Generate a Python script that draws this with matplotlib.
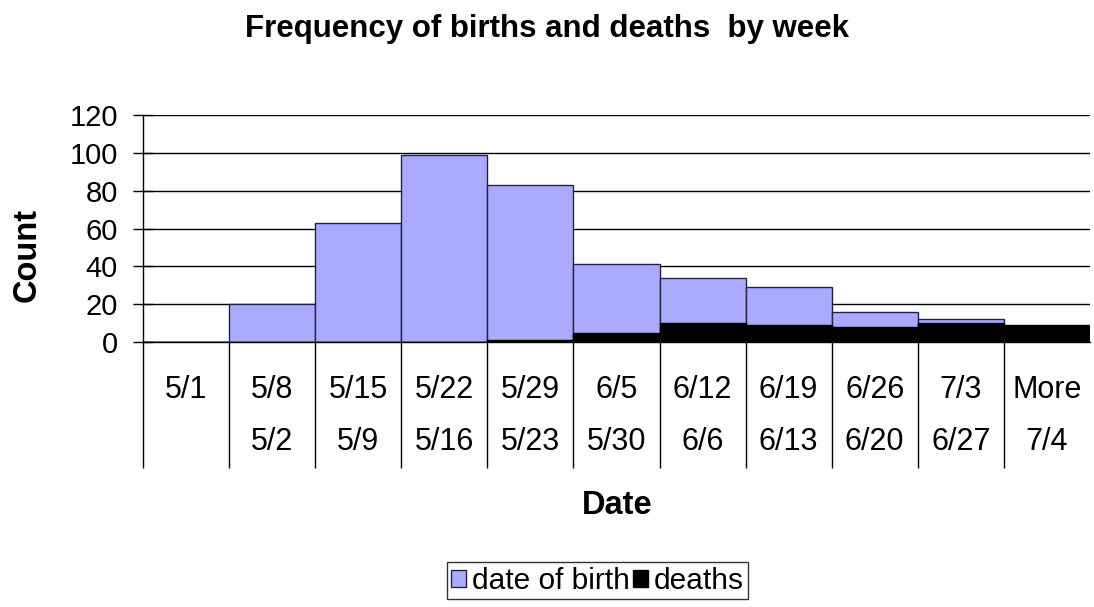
import matplotlib
matplotlib.use("Agg")
import matplotlib.pyplot as plt
from matplotlib.patches import Patch
import numpy as np

plt.rcParams["font.family"] = ["Liberation Sans", "DejaVu Sans"]

# bins: upper edge (top row) and lower edge (bottom row)
upper_labels = ["5/1", "5/8", "5/15", "5/22", "5/29", "6/5", "6/12", "6/19", "6/26", "7/3", "More"]
lower_labels = ["", "5/2", "5/9", "5/16", "5/23", "5/30", "6/6", "6/13", "6/20", "6/27", "7/4"]

births = [0, 20, 63, 99, 83, 41, 34, 29, 16, 12, 0]
deaths = [0, 0, 0, 0, 1, 5, 10, 9, 8, 10, 9]

birth_color = "#AAAAFF"

fig = plt.figure(figsize=(10.94, 6.07), dpi=100)
ax = fig.add_axes([0.1307, 0.4366, 0.8656, 0.3739])

x = np.arange(len(upper_labels))
ax.bar(x, births, width=1.0, align="edge", color=birth_color,
       edgecolor="#222244", linewidth=1.0, zorder=2)
ax.bar(x, deaths, width=1.0, align="edge", color="black",
       edgecolor="black", linewidth=1.0, zorder=3)

ax.set_xlim(0, len(upper_labels))
ax.set_ylim(0, 120)
ax.set_yticks(range(0, 121, 20))
ax.yaxis.grid(True, color="black", linewidth=1.0, zorder=0)
ax.set_axisbelow(True)
ax.tick_params(axis="y", direction="inout", length=14, width=1.0,
               labelsize=21, pad=11)

for s in ["top", "right"]:
    ax.spines[s].set_visible(False)
ax.spines["left"].set_linewidth(1.0)
ax.spines["bottom"].set_linewidth(1.0)

# category separators running down through both label rows
ax.set_xticks(x)
ax.set_xticklabels([])
ax.tick_params(axis="x", direction="out", length=91, width=1.0, color="black")

for i in x:
    ax.annotate(upper_labels[i], xy=(i + 0.5, 0), xycoords=("data", "axes fraction"),
                xytext=(0, -34.5), textcoords="offset points",
                ha="center", va="center", fontsize=22)
    ax.annotate(lower_labels[i], xy=(i + 0.5, 0), xycoords=("data", "axes fraction"),
                xytext=(0, -72), textcoords="offset points",
                ha="center", va="center", fontsize=22)

fig.text(0.5, 0.953, "Frequency of births and deaths  by week", ha="center",
         va="center", fontsize=22.5, fontweight="bold")
fig.text(0.025, 0.58, "Count", rotation=90, ha="center", va="center",
         fontsize=23.5, fontweight="bold")
fig.text(0.564, 0.168, "Date", ha="center", va="center",
         fontsize=23.5, fontweight="bold")

handles = [Patch(facecolor=birth_color, edgecolor="#222244", label="date of birth"),
           Patch(facecolor="black", edgecolor="black", label="deaths")]
leg = fig.legend(handles=handles, loc="center", bbox_to_anchor=(0.546, 0.043),
                 ncol=2, fontsize=21.5, frameon=True, fancybox=False,
                 handlelength=0.5, handleheight=0.5, handletextpad=0.2,
                 columnspacing=0.1, borderpad=0.15, borderaxespad=0)
leg.get_frame().set_edgecolor("black")
leg.get_frame().set_linewidth(1.0)

fig.savefig("out.png", dpi=100)
